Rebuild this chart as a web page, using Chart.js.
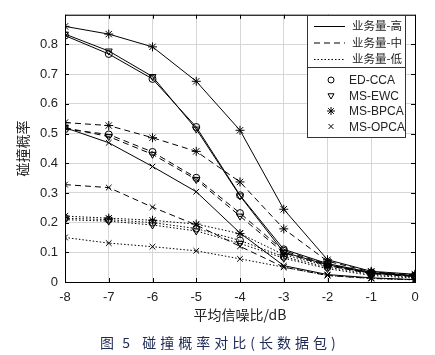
<!DOCTYPE html>
<html><head><meta charset="utf-8">
<script src="https://cdn.jsdelivr.net/npm/chart.js@4/dist/chart.umd.min.js"></script>
<style>html,body{margin:0;padding:0;background:#fff}#wrap{width:435px;height:355px;position:relative}</style>
</head><body><div id="wrap"><canvas id="c" width="435" height="355"></canvas></div>
<script>
const snr = [-8,-7,-6,-5,-4,-3,-2,-1,0];
const yTicks = [0,0.1,0.2,0.3,0.4,0.5,0.6,0.7,0.8];
const trafficLabels = ['业务量-高','业务量-中','业务量-低'];
const algoLabels = ['ED-CCA','MS-EWC','MS-BPCA','MS-OPCA'];
// high traffic
const edHigh   = [0.830,0.768,0.684,0.522,0.292,0.110,0.062,0.032,0.022];
const ewcHigh  = [0.835,0.778,0.692,0.515,0.290,0.100,0.058,0.030,0.020];
const bpcaHigh = [0.861,0.835,0.792,0.676,0.511,0.245,0.075,0.036,0.026];
const opcaHigh = [0.520,0.469,0.389,0.304,0.165,0.055,0.025,0.014,0.008];
// medium traffic
const edMid    = [0.515,0.497,0.438,0.351,0.232,0.105,0.060,0.030,0.020];
const ewcMid   = [0.520,0.490,0.430,0.345,0.222,0.098,0.055,0.028,0.018];
const bpcaMid  = [0.537,0.527,0.486,0.440,0.337,0.179,0.070,0.034,0.024];
const opcaMid  = [0.328,0.318,0.252,0.192,0.120,0.050,0.022,0.012,0.008];
// low traffic
const edLow    = [0.215,0.210,0.200,0.180,0.140,0.085,0.050,0.026,0.016];
const ewcLow   = [0.210,0.205,0.192,0.172,0.130,0.080,0.045,0.022,0.013];
const bpcaLow  = [0.222,0.215,0.208,0.195,0.163,0.092,0.055,0.030,0.020];
const opcaLow  = [0.150,0.131,0.119,0.105,0.078,0.050,0.022,0.012,0.007];

const dashes = [[], [6,4], [1.5,2]];
const markers = [
  {pointStyle:'circle', rotation:0, r:3.5},
  {pointStyle:'triangle', rotation:180, r:4},
  {pointStyle:'star', rotation:0, r:4.5},
  {pointStyle:'crossRot', rotation:0, r:4}
];
const groups = [
  [edHigh, ewcHigh, bpcaHigh, opcaHigh],
  [edMid, ewcMid, bpcaMid, opcaMid],
  [edLow, ewcLow, bpcaLow, opcaLow]
];
const datasets = [];
groups.forEach((g, ti) => g.forEach((vals, ai) => {
  const m = markers[ai];
  datasets.push({
    label: algoLabels[ai] + ' ' + trafficLabels[ti],
    data: snr.map((x, i) => ({x, y: vals[i]})),
    borderColor: '#000', backgroundColor: 'rgba(0,0,0,0)',
    borderWidth: 1, borderDash: dashes[ti],
    pointStyle: m.pointStyle, rotation: m.rotation, pointRadius: m.r,
    pointBorderColor: '#000', pointBackgroundColor: 'rgba(0,0,0,0)', pointBorderWidth: 1,
    tension: 0
  });
}));

const FONT = '"Liberation Sans", Arial, sans-serif';
const CJK = '"Noto Sans CJK SC", sans-serif';

const decor = {
  id: 'decor',
  afterDraw(chart) {
    const ctx = chart.ctx, a = chart.chartArea;
    ctx.save();
    ctx.strokeStyle = '#000'; ctx.lineWidth = 1; ctx.setLineDash([]);
    ctx.strokeRect(a.left + 0.5, a.top + 0.5, a.right - a.left, a.bottom - a.top);
    const xs = chart.scales.x, ys = chart.scales.y;
    ctx.beginPath();
    snr.forEach(v => { const px = Math.round(xs.getPixelForValue(v)) + 0.5;
      ctx.moveTo(px, a.bottom); ctx.lineTo(px, a.bottom - 4);
      ctx.moveTo(px, a.top); ctx.lineTo(px, a.top + 4); });
    yTicks.forEach(v => { const py = Math.round(ys.getPixelForValue(v)) + 0.5;
      ctx.moveTo(a.left, py); ctx.lineTo(a.left + 4, py);
      ctx.moveTo(a.right, py); ctx.lineTo(a.right - 4, py); });
    ctx.stroke();
    // axis titles
    ctx.fillStyle = '#222';
    ctx.font = '14px ' + CJK;
    ctx.textAlign = 'center'; ctx.textBaseline = 'middle';
    ctx.fillText('平均信噪比/dB', (a.left + a.right) / 2, 315);
    ctx.save();
    ctx.translate(23, (a.top + a.bottom) / 2);
    ctx.rotate(-Math.PI / 2);
    ctx.fillText('碰撞概率', 0, 0);
    ctx.restore();
    // caption
    ctx.fillStyle = '#1e2a55';
    ctx.font = '14px ' + CJK;
    ctx.textAlign = 'left';
    const cap = '图 5  碰撞概率对比(长数据包)';
    let cx = 100;
    for (const ch of cap) { ctx.fillText(ch, cx, 343); cx += ctx.measureText(ch).width + (ch === ' ' ? 1 : 4); }
    // legend boxes
    ctx.fillStyle = '#fff';
    ctx.fillRect(307, 15, 98, 52); ctx.fillRect(307, 67, 98, 70);
    ctx.strokeStyle = '#333'; ctx.lineWidth = 1;
    ctx.strokeRect(307.5, 15.5, 98, 52);
    ctx.strokeRect(307.5, 67.5, 98, 70);
    ctx.fillStyle = '#222';
    ctx.font = '11.5px ' + CJK; ctx.textAlign = 'left';
    trafficLabels.forEach((t, i) => {
      const y = 26 + i * 16.5;
      ctx.beginPath(); ctx.setLineDash(dashes[i]); ctx.strokeStyle = '#000';
      ctx.moveTo(314, y + 0.5); ctx.lineTo(345, y + 0.5); ctx.stroke();
      ctx.setLineDash([]);
      ctx.fillStyle = '#222';
      ctx.fillText(t, 352, y);
    });
    ctx.font = '12px ' + FONT;
    algoLabels.forEach((t, i) => {
      const y = 80 + i * 15.5;
      ctx.fillStyle = 'rgba(0,0,0,0)'; ctx.strokeStyle = '#000';
      Chart.helpers.drawPoint(ctx, {pointStyle: markers[i].pointStyle, rotation: markers[i].rotation,
        radius: markers[i].r - 0.5, borderWidth: 1}, 331, y);
      ctx.fillStyle = '#222';
      ctx.fillText(t, 349, y + 1);
    });
    ctx.restore();
  }
};

new Chart(document.getElementById('c'), {
  type: 'line',
  data: { datasets },
  options: {
    responsive: false, animation: false, devicePixelRatio: 1,
    layout: { padding: { left: 0, right: 20, top: 7, bottom: 0 } },
    plugins: { legend: { display: false }, tooltip: { enabled: false } },
    elements: { point: { hitRadius: 0 } },
    scales: {
      x: { type: 'linear', min: -8, max: 0,
        border: { display: false },
        grid: { color: '#d6d6d6', drawTicks: false, lineWidth: 1 },
        afterBuildTicks: s => { s.ticks = snr.map(v => ({value: v})); },
        afterFit: s => { s.height = 73; },
        ticks: { padding: 8, color: '#222', font: { family: FONT, size: 13 }, maxRotation: 0 } },
      y: { type: 'linear', min: 0, max: 0.9,
        border: { display: false },
        grid: { color: '#d6d6d6', drawTicks: false, lineWidth: 1 },
        afterBuildTicks: s => { s.ticks = yTicks.concat([0.9]).map(v => ({value: v})); },
        afterFit: s => { s.width = 65; },
        ticks: { padding: 7, color: '#222', font: { family: FONT, size: 13 },
          callback: v => (Math.abs(v - 0.9) < 1e-6 ? '' : (Math.round(v * 10) / 10).toString()) } }
    }
  },
  plugins: [decor]
});
</script></body></html>
